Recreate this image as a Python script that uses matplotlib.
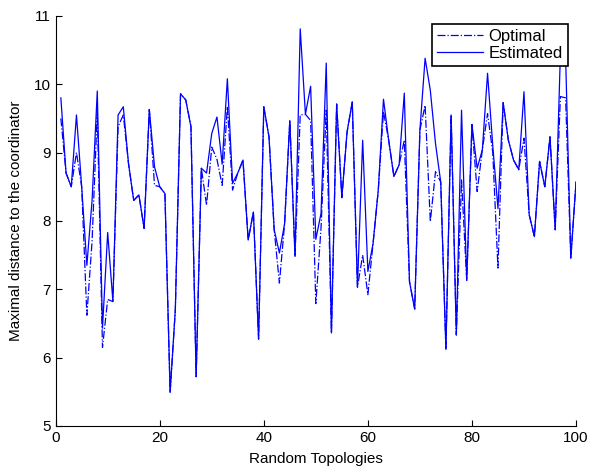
import numpy as np
import matplotlib
matplotlib.use('Agg')
import matplotlib.pyplot as plt

plt.rcParams['font.family'] = ['Liberation Sans', 'DejaVu Sans']

topologies = np.arange(1, 101)

estimated = [
    9.80, 8.70, 8.50, 9.55, 8.50, 7.35, 8.30, 9.90, 6.43, 7.83,
    6.82, 9.55, 9.67, 8.84, 8.30, 8.38, 7.89, 9.63, 8.79, 8.50,
    8.40, 5.49, 6.70, 9.86, 9.77, 9.38, 5.72, 8.77, 8.70, 9.28,
    9.52, 8.83, 10.08, 8.55, 8.70, 8.89, 7.72, 8.13, 6.27, 9.67,
    9.23, 7.87, 7.53, 7.96, 9.47, 7.48, 10.81, 9.56, 9.97, 7.73,
    8.11, 10.31, 6.36, 9.71, 8.34, 9.30, 9.74, 7.03, 9.18, 7.26,
    7.67, 8.45, 9.78, 9.18, 8.65, 8.82, 9.87, 7.11, 6.71, 9.33,
    10.38, 9.91, 9.13, 8.57, 6.12, 9.55, 6.33, 9.62, 7.13, 9.41,
    8.77, 9.04, 10.16, 9.10, 8.18, 9.73, 9.18, 8.89, 8.75, 9.89,
    8.09, 7.77, 8.87, 8.50, 9.23, 7.87, 10.45, 10.40, 7.45, 8.57,
]

optimal = [
    9.50, 8.70, 8.50, 9.00, 8.50, 6.62, 7.70, 9.60, 6.15, 6.85,
    6.82, 9.38, 9.55, 8.84, 8.30, 8.38, 7.89, 9.63, 8.52, 8.50,
    8.40, 5.49, 6.70, 9.86, 9.77, 9.38, 5.72, 8.77, 8.23, 9.08,
    8.90, 8.52, 9.67, 8.45, 8.70, 8.89, 7.72, 8.13, 6.27, 9.67,
    9.23, 7.87, 7.09, 7.96, 9.47, 7.48, 9.55, 9.56, 9.47, 6.79,
    7.90, 9.62, 6.36, 9.71, 8.34, 9.30, 9.74, 7.03, 7.50, 6.92,
    7.67, 8.45, 9.60, 9.18, 8.65, 8.82, 9.18, 7.11, 6.71, 9.33,
    9.69, 7.99, 8.72, 8.57, 6.12, 9.55, 6.33, 8.60, 7.13, 9.41,
    8.43, 9.04, 9.57, 9.00, 7.31, 9.73, 9.18, 8.89, 8.75, 9.21,
    8.09, 7.77, 8.87, 8.50, 9.23, 7.87, 9.82, 9.80, 7.45, 8.57,
]

fig = plt.figure(figsize=(5.92, 4.67), dpi=100)
ax = fig.add_axes([0.094, 0.088, 0.879, 0.878])

ax.plot(topologies, optimal, '-.', color='blue', linewidth=0.9, label='Optimal')
ax.plot(topologies, estimated, '-', color='blue', linewidth=0.9, label='Estimated')

ax.set_xlim(0, 100)
ax.set_ylim(5, 11)
ax.set_xticks([0, 20, 40, 60, 80, 100])
ax.set_yticks([5, 6, 7, 8, 9, 10, 11])
ax.tick_params(direction='in', labelsize=11, length=4)
ax.spines['top'].set_visible(False)
ax.spines['right'].set_visible(False)

ax.set_xlabel('Random Topologies', fontsize=11, labelpad=5)
ax.set_ylabel('Maximal distance to the coordinator', fontsize=11, labelpad=8)

leg = ax.legend(loc='upper right', fontsize=12, frameon=True, fancybox=False,
                framealpha=1, borderpad=0.3, labelspacing=0.12, handlelength=2.8,
                handletextpad=0.3, borderaxespad=0.5)
leg.get_frame().set_edgecolor('black')
leg.get_frame().set_linewidth(1.2)

fig.savefig('out.png', dpi=100)
